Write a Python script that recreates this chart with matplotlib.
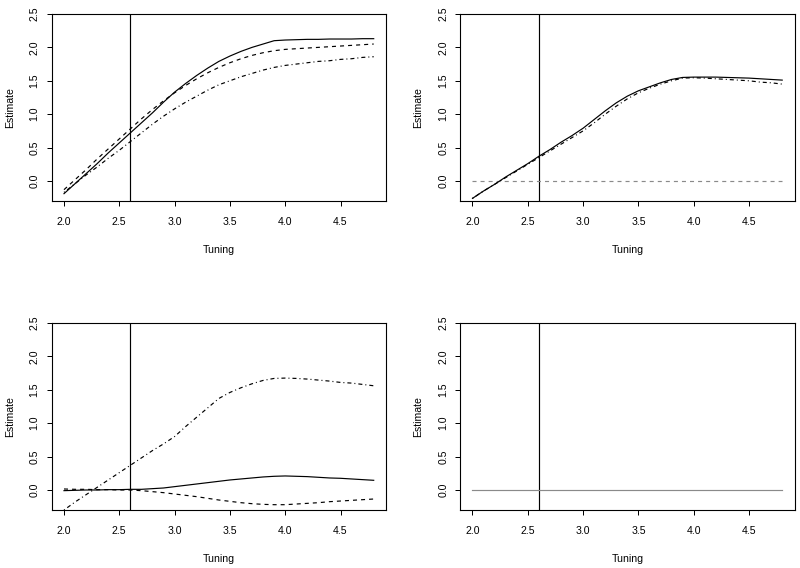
import matplotlib
matplotlib.use("Agg")
import matplotlib.pyplot as plt

plt.rcParams['font.family'] = ['Liberation Sans', 'DejaVu Sans']
plt.rcParams['lines.scale_dashes'] = False

tuning = [2.0, 2.1, 2.2, 2.3, 2.4, 2.5, 2.6, 2.7, 2.8, 2.9, 3.0, 3.1, 3.2, 3.3, 3.4,
          3.5, 3.6, 3.7, 3.8, 3.9, 4.0, 4.1, 4.2, 4.3, 4.4, 4.5, 4.6, 4.7, 4.8]

# Panel 1 (top-left)
p1_solid = [-0.19, -0.04, 0.11, 0.26, 0.42, 0.57, 0.72, 0.87, 1.02, 1.18, 1.33, 1.46, 1.58, 1.69, 1.79,
            1.87, 1.94, 2.00, 2.05, 2.10, 2.11, 2.115, 2.12, 2.12, 2.125, 2.125, 2.125, 2.13, 2.13]
p1_dashed = [-0.13, 0.02, 0.17, 0.33, 0.48, 0.63, 0.78, 0.93, 1.07, 1.20, 1.32, 1.43, 1.53, 1.62, 1.70,
             1.77, 1.83, 1.88, 1.92, 1.95, 1.97, 1.98, 1.99, 2.00, 2.01, 2.02, 2.03, 2.04, 2.05]
p1_dotdash = [-0.17, -0.04, 0.09, 0.21, 0.34, 0.46, 0.59, 0.72, 0.85, 0.97, 1.08, 1.18, 1.27, 1.36, 1.44,
              1.50, 1.56, 1.61, 1.66, 1.70, 1.73, 1.75, 1.77, 1.79, 1.80, 1.82, 1.83, 1.85, 1.86]

# Panel 2 (top-right)
p2_solid = [-0.26, -0.15, -0.05, 0.06, 0.16, 0.26, 0.37, 0.47, 0.58, 0.68, 0.79, 0.92, 1.05, 1.17, 1.27,
            1.35, 1.41, 1.47, 1.52, 1.55, 1.555, 1.555, 1.555, 1.55, 1.545, 1.54, 1.53, 1.52, 1.51]
p2_dotdash = [-0.26, -0.15, -0.05, 0.05, 0.15, 0.25, 0.35, 0.45, 0.55, 0.65, 0.75, 0.87, 1.00, 1.12, 1.23,
              1.32, 1.39, 1.45, 1.50, 1.54, 1.545, 1.54, 1.53, 1.52, 1.51, 1.50, 1.48, 1.47, 1.45]
p2_truth = [0.0] * len(tuning)

# Panel 3 (bottom-left)
p3_solid = [-0.01, -0.005, 0.0, 0.0, 0.005, 0.005, 0.01, 0.01, 0.02, 0.03, 0.05, 0.07, 0.09, 0.11, 0.13,
            0.15, 0.165, 0.18, 0.195, 0.205, 0.21, 0.205, 0.20, 0.19, 0.18, 0.175, 0.165, 0.155, 0.145]
p3_dashed = [0.015, 0.01, 0.01, 0.005, 0.005, 0.0, 0.0, -0.01, -0.025, -0.04, -0.06, -0.08, -0.10, -0.125, -0.15,
             -0.17, -0.19, -0.205, -0.215, -0.22, -0.22, -0.21, -0.20, -0.19, -0.175, -0.165, -0.155, -0.145, -0.135]
p3_dotdash = [-0.30, -0.18, -0.07, 0.04, 0.15, 0.26, 0.37, 0.48, 0.59, 0.69, 0.80, 0.95, 1.09, 1.23, 1.37,
              1.46, 1.53, 1.59, 1.64, 1.67, 1.675, 1.67, 1.66, 1.645, 1.63, 1.61, 1.60, 1.58, 1.56]

# Panel 4 (bottom-right)
p4_solid = [0.0] * len(tuning)

vline_x = 2.6
xticks = [2.0, 2.5, 3.0, 3.5, 4.0, 4.5]
xtick_labels = ["2.0", "2.5", "3.0", "3.5", "4.0", "4.5"]
yticks = [0.0, 0.5, 1.0, 1.5, 2.0, 2.5]
ytick_labels = ["0.0", "0.5", "1.0", "1.5", "2.0", "2.5"]

W, H = 800, 568
fig = plt.figure(figsize=(W / 100, H / 100), dpi=100)

lw = 0.85
DASHED = (0, (2.9, 2.9))
DOTDASH = (0, (0.72, 2.16, 2.9, 2.16))
gray = '#8a8a8a'
fs = 7.6

def make_ax(x0, y0):
    left = x0 / W
    bottom = 1 - (y0 + 187.6) / H
    ax = fig.add_axes([left, bottom, 334.5 / W, 187.6 / H])
    ax.set_xlim(1.888, 4.912)
    ax.set_ylim(-0.304, 2.504)
    ax.set_xticks(xticks)
    ax.set_xticklabels(xtick_labels)
    ax.set_yticks(yticks)
    ax.set_yticklabels(ytick_labels, rotation=90, va='center')
    ax.tick_params(direction='out', length=3.6, width=0.72, labelsize=fs, colors='black')
    ax.tick_params(axis='x', pad=7.5)
    ax.tick_params(axis='y', pad=5)
    for s in ax.spines.values():
        s.set_linewidth(0.8)
        s.set_color('black')
    ax.set_xlabel("Tuning", fontsize=fs, labelpad=13.5)
    ax.set_ylabel("Estimate", fontsize=fs, labelpad=10.6)
    ax.axvline(vline_x, color='black', lw=lw)
    return ax

ax1 = make_ax(51.6, 13.7)
ax1.plot(tuning, p1_solid, color='black', lw=lw)
ax1.plot(tuning, p1_dashed, color='black', lw=lw, linestyle=DASHED)
ax1.plot(tuning, p1_dotdash, color='black', lw=lw, linestyle=DOTDASH)

ax2 = make_ax(460.1, 13.7)
ax2.plot(tuning, p2_truth, color=gray, lw=lw, linestyle=DASHED)
ax2.plot(tuning, p2_solid, color='black', lw=lw)
ax2.plot(tuning, p2_dotdash, color='black', lw=lw, linestyle=DOTDASH)

ax3 = make_ax(51.6, 322.7)
ax3.plot(tuning, p3_solid, color='black', lw=lw)
ax3.plot(tuning, p3_dashed, color='black', lw=lw, linestyle=DASHED)
ax3.plot(tuning, p3_dotdash, color='black', lw=lw, linestyle=DOTDASH)

ax4 = make_ax(460.1, 322.7)
ax4.plot(tuning, p4_solid, color=gray, lw=lw)

fig.savefig("out.png", dpi=100)
